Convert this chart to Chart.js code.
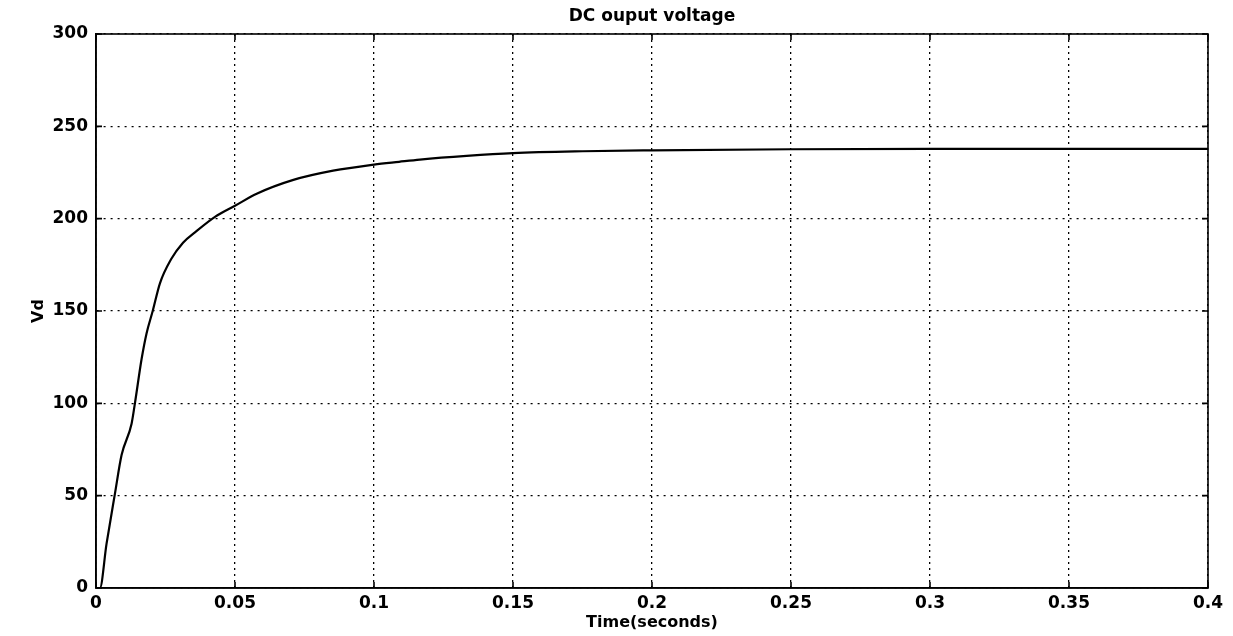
<!DOCTYPE html>
<html>
  <head>
    <title>DC ouput voltage</title>
    <style>
      body { margin: 0; background: #fff; }
    </style>
  </head>
  <body>
    <div style="width: 1233px; height: 636px">
      <canvas id="canvas" width="1233" height="636"></canvas>
    </div>
    <script src="https://cdn.jsdelivr.net/npm/chart.js@4.4.1/dist/chart.umd.min.js"></script>
    <script>
      // values
      const timeSec = [0, 0.0014, 0.0038, 0.0068, 0.0092, 0.0128, 0.014, 0.0164, 0.0182, 0.0204,
        0.023, 0.027, 0.0313, 0.0356, 0.0428, 0.05, 0.0578, 0.071, 0.0853, 0.1,
        0.109, 0.1165, 0.1333, 0.15, 0.175, 0.2, 0.25, 0.3, 0.35, 0.4];
      const vd = [0, 0, 24, 51, 72, 89, 100, 124, 138, 150,
        165, 178, 187, 192.6, 201, 207, 213.5, 221, 226, 229.3,
        230.8, 232, 234, 235.5, 236.5, 237, 237.6, 237.8, 237.8, 237.8];
      const xTicks = [0, 0.05, 0.1, 0.15, 0.2, 0.25, 0.3, 0.35, 0.4];
      const yTicks = [0, 50, 100, 150, 200, 250, 300];
      const titleText = "DC ouput voltage";

      const FONT = "'DejaVu Sans', sans-serif";

      // box around the plot, small inward ticks and the title over the plot centre
      const boxPlugin = {
        id: "box",
        afterDraw(chart) {
          const { ctx, chartArea: a, scales } = chart;
          ctx.save();
          ctx.strokeStyle = "#000";
          ctx.lineWidth = 1.6;
          ctx.setLineDash([]);
          ctx.strokeRect(a.left, a.top, a.right - a.left, a.bottom - a.top);
          const len = 6;
          ctx.beginPath();
          xTicks.forEach((t) => {
            const x = scales.x.getPixelForValue(t);
            ctx.moveTo(x, a.bottom); ctx.lineTo(x, a.bottom - len);
            ctx.moveTo(x, a.top); ctx.lineTo(x, a.top + len);
          });
          yTicks.forEach((v) => {
            const y = scales.y.getPixelForValue(v);
            ctx.moveTo(a.left, y); ctx.lineTo(a.left + len, y);
            ctx.moveTo(a.right, y); ctx.lineTo(a.right - len, y);
          });
          ctx.stroke();

          ctx.fillStyle = "#000";
          ctx.font = "bold 17px " + FONT;
          ctx.textAlign = "center";
          ctx.textBaseline = "middle";
          ctx.fillText(titleText, (a.left + a.right) / 2, 17);
          ctx.restore();
        }
      };

      new Chart(document.getElementById("canvas").getContext("2d"), {
        type: "line",
        data: {
          datasets: [
            {
              data: timeSec.map((t, i) => ({ x: t, y: vd[i] })),
              borderColor: "#000",
              borderWidth: 2.2,
              pointRadius: 0,
              cubicInterpolationMode: "monotone",
              fill: false
            }
          ]
        },
        options: {
          responsive: false,
          animation: false,
          layout: { padding: { left: 0, right: 25, top: 34, bottom: 0 } },
          plugins: {
            legend: { display: false },
            tooltip: { enabled: false },
            title: { display: false }
          },
          scales: {
            x: {
              type: "linear",
              min: 0,
              max: 0.4,
              afterBuildTicks: (s) => { s.ticks = xTicks.map((v) => ({ value: v })); },
              afterFit: (s) => { s.height = 48; },
              ticks: {
                color: "#000",
                padding: 5,
                maxRotation: 0,
                font: { family: FONT, size: 17, weight: "bold" },
                callback: (v) => String(+v.toFixed(2))
              },
              grid: { color: "#000", lineWidth: 1.3, drawTicks: false },
              border: { display: true, color: "#000", width: 1.6, dash: [2, 4] },
              title: {
                display: true,
                text: "Time(seconds)",
                color: "#000",
                font: { family: FONT, size: 16, weight: "bold" },
                padding: { top: 4, bottom: 4 }
              }
            },
            y: {
              min: 0,
              max: 300,
              afterBuildTicks: (s) => { s.ticks = yTicks.map((v) => ({ value: v })); },
              afterFit: (s) => { s.width = 96; },
              ticks: {
                color: "#000",
                padding: 8,
                font: { family: FONT, size: 17, weight: "bold" }
              },
              grid: { color: "#000", lineWidth: 1.3, drawTicks: false },
              border: { display: true, color: "#000", width: 1.6, dash: [2, 5] },
              title: {
                display: true,
                text: "Vd",
                color: "#000",
                font: { family: FONT, size: 16, weight: "bold" },
                padding: { top: 29, bottom: 29 }
              }
            }
          }
        },
        plugins: [boxPlugin]
      });
    </script>
  </body>
</html>
